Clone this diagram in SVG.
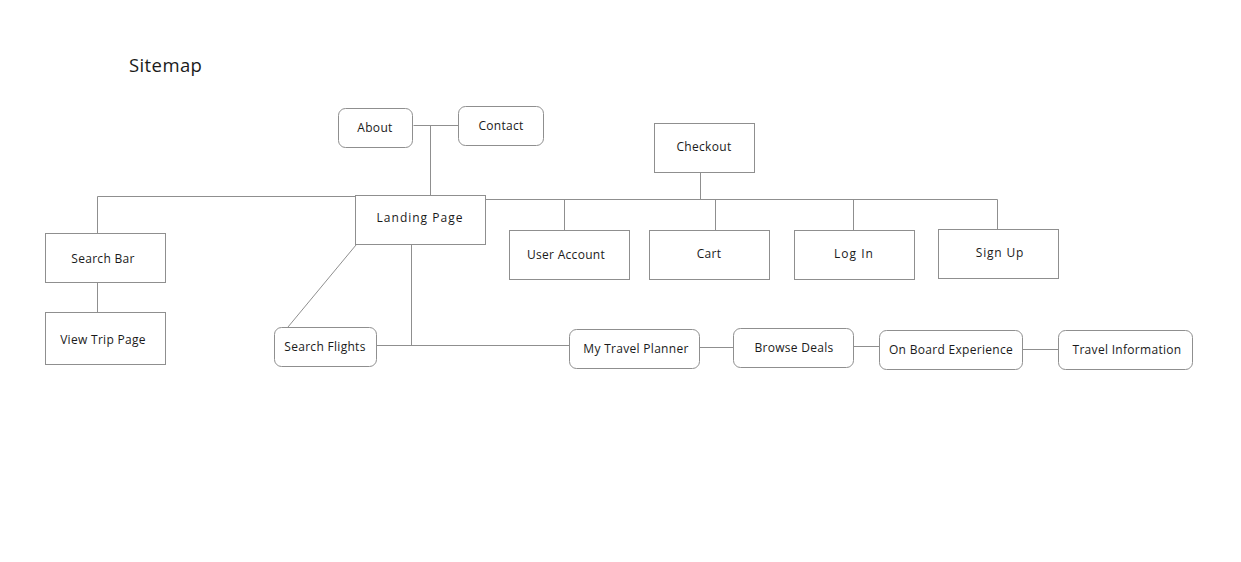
<svg xmlns="http://www.w3.org/2000/svg" width="1241" height="562" viewBox="0 0 1241 562">
<style>
.n{fill:#fff;stroke:#8f8f8f;stroke-width:1}
.t{font-family:"Open Sans","Noto Sans",sans-serif;font-size:12px;fill:#1a1a1a;text-anchor:middle;dominant-baseline:central;letter-spacing:0.3px}
.c{fill:none;stroke:#8f8f8f;stroke-width:1}
</style>
<rect width="1241" height="562" fill="#fff"/>
<text x="129" y="72" style="font-family:'Open Sans','Noto Sans',sans-serif;font-size:18.5px;fill:#1a1a1a;letter-spacing:0.4px">Sitemap</text>
<g id="connectors">
<path class="c" d="M413.5 125.5H458.5M430.5 125.5V195.5"/>
<path class="c" d="M97.5 233V196.5H355.5"/>
<path class="c" d="M97.5 283V312"/>
<path class="c" d="M486 199.5H997.5V229M564.5 199.5V230M715.5 199.5V230M853.5 199.5V230M700.5 173V199.5"/>
<path class="c" d="M356 245L288 327"/>
<path class="c" d="M411.5 245V345.5M377 345.5H569"/>
<path class="c" d="M700 347.5H733"/>
<path class="c" d="M854 346.5H879"/>
<path class="c" d="M1023 349.5H1058"/>
</g>
<g id="about"><rect class="n" x="338.5" y="108.5" width="74" height="39" rx="7"/><text class="t" x="375" y="127">About</text></g>
<g id="contact"><rect class="n" x="458.5" y="106.5" width="85" height="39" rx="7"/><text class="t" x="501" y="125">Contact</text></g>
<g id="landing"><rect class="n" x="355.5" y="195.5" width="130" height="49"/><text class="t" x="420" y="217" style="letter-spacing:1px">Landing Page</text></g>
<g id="checkout"><rect class="n" x="654.5" y="123.5" width="100" height="49"/><text class="t" x="704" y="146">Checkout</text></g>
<g id="searchbar"><rect class="n" x="45.5" y="233.5" width="120" height="49"/><text class="t" x="103" y="258">Search Bar</text></g>
<g id="viewtrip"><rect class="n" x="45.5" y="312.5" width="120" height="52"/><text class="t" x="103" y="339">View Trip Page</text></g>
<g id="useraccount"><rect class="n" x="509.5" y="230.5" width="120" height="49"/><text class="t" x="566" y="254">User Account</text></g>
<g id="cart"><rect class="n" x="649.5" y="230.5" width="120" height="49"/><text class="t" x="709" y="253">Cart</text></g>
<g id="login"><rect class="n" x="794.5" y="230.5" width="120" height="49"/><text class="t" x="854" y="253" style="letter-spacing:1px">Log In</text></g>
<g id="signup"><rect class="n" x="938.5" y="229.5" width="120" height="49"/><text class="t" x="1000" y="252" style="letter-spacing:0.8px">Sign Up</text></g>
<g id="searchflights"><rect class="n" x="274.5" y="327.5" width="102" height="39" rx="7"/><text class="t" x="325" y="346">Search Flights</text></g>
<g id="travelplanner"><rect class="n" x="569.5" y="329.5" width="130" height="39" rx="7"/><text class="t" x="636" y="348">My Travel Planner</text></g>
<g id="browsedeals"><rect class="n" x="733.5" y="328.5" width="120" height="39" rx="7"/><text class="t" x="794" y="347">Browse Deals</text></g>
<g id="onboard"><rect class="n" x="879.5" y="330.5" width="143" height="39" rx="7"/><text class="t" x="951" y="349">On Board Experience</text></g>
<g id="travelinfo"><rect class="n" x="1058.5" y="330.5" width="134" height="39" rx="7"/><text class="t" x="1127" y="349">Travel Information</text></g>
</svg>
